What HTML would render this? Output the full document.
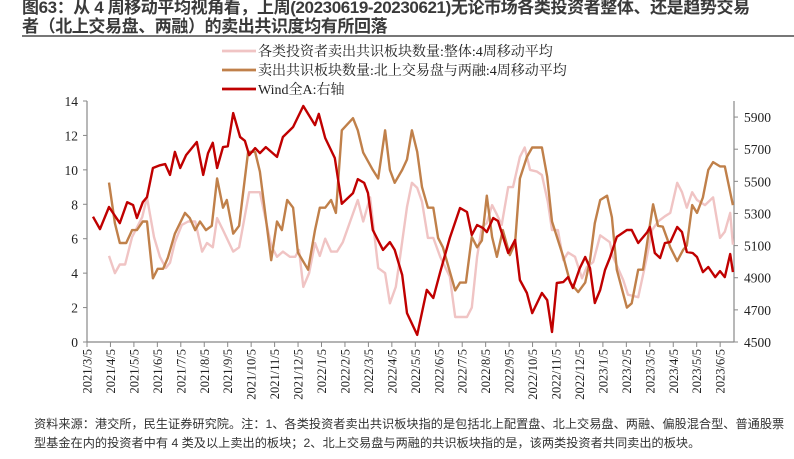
<!DOCTYPE html>
<html><head><meta charset="utf-8">
<style>
html,body{margin:0;padding:0;background:#fff;}
body{width:794px;height:459px;overflow:hidden;position:relative;}
.title{position:absolute;left:22px;top:-2px;width:780px;white-space:nowrap;font-family:"Liberation Sans","Noto Sans CJK SC",sans-serif;font-weight:bold;font-size:17px;line-height:19px;color:#3a3a3a;letter-spacing:-0.4px;}
.rule{position:absolute;left:22px;top:35px;width:772px;height:2px;background:#777;}
.note{position:absolute;left:34px;top:415px;width:760px;white-space:nowrap;font-family:"Liberation Sans","Noto Sans CJK SC",sans-serif;font-size:12.2px;line-height:19px;color:#333;}
svg{position:absolute;left:0;top:0;}
</style></head><body>
<div class="title">图63：从 4 周移动平均视角看，上周(20230619-20230621)无论市场各类投资者整体、还是趋势交易<br>者（北上交易盘、两融）的卖出共识度均有所回落</div>
<div class="rule"></div>
<svg id="chart" width="794" height="459"></svg>
<div class="note">资料来源：港交所，民生证券研究院。注：1、各类投资者卖出共识板块指的是包括北上配置盘、北上交易盘、两融、偏股混合型、普通股票<br>型基金在内的投资者中有 4 类及以上卖出的板块；2、北上交易盘与两融的共识板块指的是，该两类投资者共同卖出的板块。</div>
<script>
const monthLabels = ["2021/3/5","2021/4/5","2021/5/5","2021/6/5","2021/7/5","2021/8/5","2021/9/5","2021/10/5","2021/11/5","2021/12/5","2022/1/5","2022/2/5","2022/3/5","2022/4/5","2022/5/5","2022/6/5","2022/7/5","2022/8/5","2022/9/5","2022/10/5","2022/11/5","2022/12/5","2023/1/5","2023/2/5","2023/3/5","2023/4/5","2023/5/5","2023/6/5"];
const leftTicks = [0,2,4,6,8,10,12,14];
const rightTicks = [4500,4700,4900,5100,5300,5500,5700,5900];
const windWeeks = [0,1.3,3,5,6.4,7.5,8.2,9.3,10.1,11.2,12.5,13.5,14.4,15.3,16.3,17.4,19.4,20.6,21.5,22.4,23.2,24.3,25.2,26.2,27.5,28.4,29.2,30.3,31.2,32.3,34.4,35.5,37.4,39.3,41.5,42.2,43.4,45.2,46.5,48.6,49.5,50.7,51.4,52.3,54.2,55.5,56.4,57.8,58.7,60.6,62.4,63.6,64.9,66.7,68.6,69.9,70.8,71.8,72.9,73.6,74.8,75.7,77.6,78.9,79.8,81.1,82.1,83.9,84.9,85.8,86.7,87.9,88.8,89.7,91,92,92.9,93.8,94.8,95.7,96.6,97.9,99.8,100.7,101.9,103.6,104.1,105,106,106.9,107.9,109.2,110.1,111,112.1,112.9,114,115,116.3,117.2,118.1,119.1,119.6];
const windValues = [5280,5203,5340,5240,5370,5352,5272,5370,5402,5583,5600,5607,5540,5683,5583,5663,5745,5540,5675,5740,5583,5713,5718,5925,5776,5752,5663,5707,5676,5713,5652,5776,5838,5969,5850,5920,5770,5645,5360,5427,5514,5490,5427,5197,5073,5122,5073,4917,4680,4544,4824,4774,4935,5147,5334,5309,5166,5228,5209,5184,5272,5253,5054,5135,4886,4805,4680,4805,4761,4562,4867,4873,4904,4836,4960,5029,4960,4743,4824,4948,5023,5154,5197,5197,5116,5184,5216,5054,5023,5116,5122,5216,5184,5060,5054,5029,4935,4967,4904,4941,4904,5048,4935];
const brownWeeks = [3,4.1,5,6.2,7.3,8.2,9.3,10.1,11.2,12.1,13.1,14,15.3,17.2,18.1,19.1,20,21.1,22.2,23.2,24.3,25,26.2,27.3,29,30.3,31.2,33.3,34.4,35.3,36.3,37.4,38.3,40.2,41.5,42.4,43.4,44.5,45.4,46.5,48.6,49.5,50.5,52.3,53.3,54.6,55.5,56.4,57.8,58.7,59.6,60.6,61.5,62.6,63.6,64.5,65.4,67.7,68.6,69.7,70.8,71.8,72.7,73.6,74.6,75.5,76.6,77.9,78.9,79.8,81.1,82.1,83.9,84.9,85.8,87.9,89.2,90.7,92,92.9,93.8,94.8,96.1,97,97.9,99.8,100.7,101.9,102.8,104.7,105.6,106.5,107.9,109.2,110.3,111,112,112.9,114,115,115.9,117.2,118.1,119.6];
const brownValues = [9.26,6.9,5.75,5.75,6.5,6.5,7,7,3.7,4.25,4.25,4.9,6.3,7.5,7.2,6.5,7,6.5,6.75,9.5,7.8,8.25,6.3,6.75,11.05,11.05,9.9,4.75,7,6.5,8.25,7.8,5.2,4.2,6.5,7.8,7.8,8.25,7.5,12.3,13,12.3,11,10,9.5,12.3,10,9.25,10,10.6,12.3,11.05,9,7.8,7.8,6.05,5.5,3,3.45,3.45,6.1,5.5,5.9,8.5,6.1,4.95,6.5,5.05,5.75,9.5,10.75,11.3,11.3,9.6,7,4.95,3.45,2.9,3.45,4.75,6.9,8.25,8.5,7.25,4.2,2,2.25,4.2,4.2,8,6.75,6.7,5.5,4.7,5.35,5.6,7.95,7.5,8.4,10,10.45,10.2,10.2,7.95];
const pinkWeeks = [3,4.1,5,6,7.3,9.2,10.1,11.4,12.5,13.6,14.4,15.3,16.6,17.8,19.1,20.4,21.3,22.4,23.2,24.3,26.2,27.3,29.2,31.2,33.3,34.4,35.5,36.8,37.8,38.5,39.3,40.4,41.5,42.4,43.4,44.5,45.6,46.7,49.5,50.5,51.8,53.3,54.6,55.5,56.6,57.4,58.7,59.6,60.6,61.5,62.6,63.6,64.9,66.7,67.7,69.9,70.8,71.8,72.7,73.6,74.6,75.5,76.4,77.6,78.5,79.8,80.7,81.7,83,83.9,85,85.8,86.9,87.9,88.8,90.1,91.4,92.3,93.5,94.8,96.6,97.2,99.1,100,101.9,103.4,104.5,105.6,106.9,107.9,109.2,110.1,111,112,112.9,114.4,115.9,117.2,118.1,119.1,119.6];
const pinkValues = [5,4,4.5,4.5,6.1,7.25,8.4,6.1,4.95,4.3,4.6,5.8,6.8,7,7,5.25,5.75,5.5,7.2,6.5,5.25,5.5,8.7,8.7,5.6,4.95,5.25,4.95,4.95,5.35,3.2,4,5.75,5,6,5.25,5.25,5.8,8.25,7,8.4,4.3,4,2.25,3.2,4.95,7.85,9.25,8.95,8.15,6.05,6.05,4.95,3.8,1.45,1.45,2,4.95,6.7,6.9,7.95,7.4,6.8,9,9,10.75,11.3,10,9.9,9.7,8.15,6.5,6.5,4.75,5.2,4.95,3.7,4.35,4.65,6.2,5.8,4.95,3.6,2.75,2.6,4.75,6.5,7,7.3,7.5,9.25,8.7,7.8,8.7,8.25,7.95,8.4,6.05,6.4,7.5,5.65];

const svg = document.getElementById('chart');
const NS = 'http://www.w3.org/2000/svg';
const X0 = 87, X1 = 734, Y0 = 342, Y1 = 101;
const xW = w => 93 + w * 5.35;
const xM = i => 87 + i * 23.45;
const yL = v => Y0 - (v - 0) / 14 * (Y0 - Y1);
const yR = v => Y0 - (v - 4500) / 1500 * (Y0 - Y1);
function mk(tag, attrs, parent) {
  const e = document.createElementNS(NS, tag);
  for (const k in attrs) e.setAttribute(k, attrs[k]);
  (parent || svg).appendChild(e);
  return e;
}
const serif = '"Liberation Serif","Noto Serif CJK SC",serif';
let a = mk('line', {x1:X0, y1:Y1, x2:X0, y2:Y0, stroke:'#888', 'stroke-width':1.2});


a = mk('line', {x1:X1, y1:Y1, x2:X1, y2:Y0, stroke:'#888', 'stroke-width':1.2});


a = mk('line', {x1:X0, y1:Y0, x2:X1, y2:Y0, stroke:'#888', 'stroke-width':1.2});


leftTicks.forEach(v => {
  mk('line', {x1:X0-4, y1:yL(v), x2:X0, y2:yL(v), stroke:'#888'});
  const t = mk('text', {x:78, y:yL(v)+5, 'text-anchor':'end', 'font-size':13.5, 'font-family':serif, fill:'#222'});
  t.textContent = v;
  
  
});
rightTicks.forEach(v => {
  mk('line', {x1:X1, y1:yR(v), x2:X1+4, y2:yR(v), stroke:'#888'});
  const t = mk('text', {x:744, y:yR(v)+5, 'font-size':13.5, 'font-family':serif, fill:'#222'});
  t.textContent = v;
  
  
});
monthLabels.forEach((m, i) => {
  const x = xM(i);
  mk('line', {x1:x, y1:Y0, x2:x, y2:Y0+5, stroke:'#888'});
  const t = mk('text', {x:0, y:0, 'text-anchor':'end', 'font-size':12.5, 'font-family':serif, fill:'#222', transform:`translate(${x+4.5},${Y0+7}) rotate(-90)`});
  t.textContent = m;
  
  
});
function series(ws, vs, yf, color, name) {
  const d = ws.map((w, i) => (i ? 'L' : 'M') + xW(w).toFixed(1) + ',' + yf(vs[i]).toFixed(1)).join('');
  const p = mk('path', {d, fill:'none', stroke:color, 'stroke-width':2.4, 'stroke-linejoin':'round'});
  
  
}
series(pinkWeeks, pinkValues, yL, '#f0c4c4', 'series-all-investors');
series(brownWeeks, brownValues, yL, '#c0804a', 'series-northbound-margin');
series(windWeeks, windValues, yR, '#c00000', 'series-wind-all-a');
const leg = [['#f0c4c4','各类投资者卖出共识板块数量:整体:4周移动平均',56],['#c0804a','卖出共识板块数量:北上交易盘与两融:4周移动平均',75],['#c00000','Wind全A:右轴',94]];
leg.forEach(l => {
  const g = mk('g', {});
  
  
  mk('line', {x1:222, y1:l[2]-5, x2:256, y2:l[2]-5, stroke:l[0], 'stroke-width':2.8}, g);
  const t = mk('text', {x:258, y:l[2], 'font-size':14, 'font-family':serif, fill:'#222'}, g);
  t.textContent = l[1];
});
</script>
</body></html>
